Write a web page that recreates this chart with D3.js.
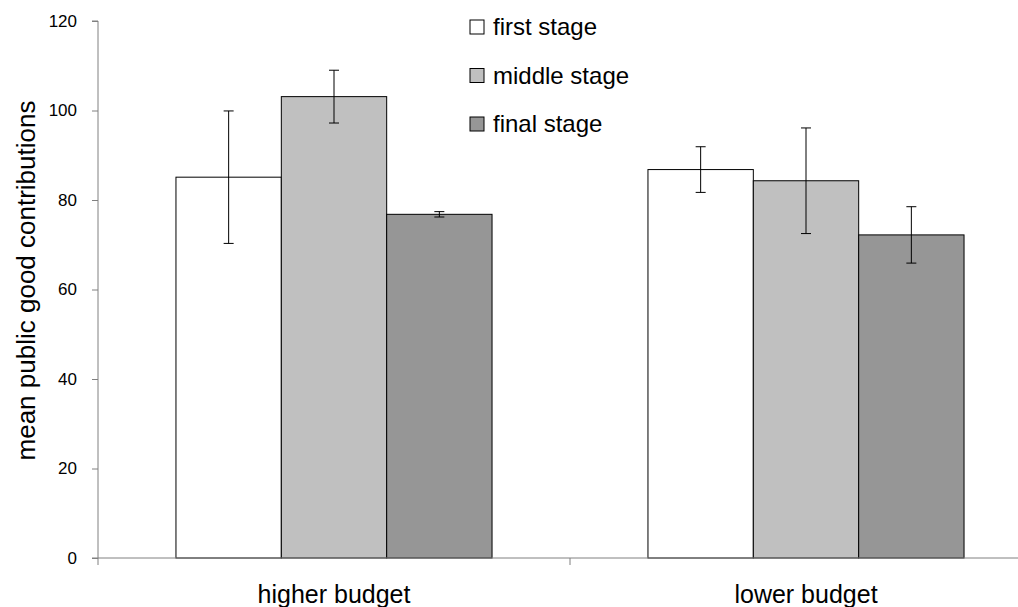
<!DOCTYPE html>
<html>
<head>
<meta charset="utf-8">
<script src="https://cdn.jsdelivr.net/npm/d3@7"></script>
<style>
  body { margin: 0; background: #fff; }
  text { font-family: "Liberation Sans", Arial, sans-serif; fill: #000; }
</style>
</head>
<body>
<div id="chart"></div>
<script>
// chart data
const categories = ["higher budget", "lower budget"];
const stages = ["first stage", "middle stage", "final stage"];
const stageColors = ["#ffffff", "#c0c0c0", "#969696"];
const means = [
    [85.1, 103.1, 76.8],
    [86.8, 84.3, 72.2]
];
const errors = [
    [14.8, 5.9, 0.6],
    [5.1, 11.8, 6.3]
];
const yTicks = [0, 20, 40, 60, 80, 100, 120];

const width = 1018, height = 607;
const margin = {top: 21, right: -24, bottom: 49, left: 98};

const svg = d3.select("#chart").append("svg")
    .attr("width", width)
    .attr("height", height);

const x = d3.scaleBand()
    .domain(categories)
    .range([margin.left, width - margin.right])
    .paddingInner(0)
    .paddingOuter(0);

// bars take 316 of each 472 px band
const xInner = d3.scaleBand()
    .domain(stages)
    .range([0, x.bandwidth()])
    .paddingOuter(0.74)
    .paddingInner(0);

const y = d3.scaleLinear()
    .domain([0, 120])
    .range([height - margin.bottom, margin.top]);

// bars
const groups = svg.selectAll(".group")
    .data(categories)
    .join("g")
    .attr("class", "group")
    .attr("transform", d => `translate(${x(d)},0)`);

groups.each(function (cat, ci) {
    const g = d3.select(this);
    const rows = stages.map((s, si) => ({stage: s, si, v: means[ci][si], e: errors[ci][si]}));

    g.selectAll("rect")
        .data(rows)
        .join("rect")
        .attr("x", d => xInner(d.stage))
        .attr("y", d => y(d.v))
        .attr("width", xInner.bandwidth())
        .attr("height", d => y(0) - y(d.v))
        .attr("fill", d => stageColors[d.si])
        .attr("stroke", "#000")
        .attr("stroke-width", 1);

    const eb = g.selectAll(".err")
        .data(rows)
        .join("g")
        .attr("class", "err")
        .attr("transform", d => `translate(${xInner(d.stage) + xInner.bandwidth() / 2},0)`);
    eb.append("line")
        .attr("y1", d => y(d.v - d.e))
        .attr("y2", d => y(d.v + d.e))
        .attr("stroke", "#000");
    eb.append("line")
        .attr("x1", -5).attr("x2", 5)
        .attr("y1", d => y(d.v + d.e))
        .attr("y2", d => y(d.v + d.e))
        .attr("stroke", "#000");
    eb.append("line")
        .attr("x1", -5).attr("x2", 5)
        .attr("y1", d => y(d.v - d.e))
        .attr("y2", d => y(d.v - d.e))
        .attr("stroke", "#000");
});

// y axis
const yAxis = d3.axisLeft(y).tickValues(yTicks).tickSize(6).tickPadding(15);
svg.append("g")
    .attr("transform", `translate(${margin.left},0)`)
    .call(yAxis)
    .call(g => g.select(".domain").attr("stroke", "#808080").attr("d", `M-6,${y(120)}H0V${y(0) + 7}`))
    .call(g => g.selectAll(".tick line").attr("stroke", "#808080"))
    .call(g => g.selectAll(".tick text").attr("font-size", 17).attr("font-family", "Liberation Sans, Arial, sans-serif").attr("fill", "#000"));

// x axis
svg.append("g")
    .attr("transform", `translate(0,${y(0)})`)
    .call(g => g.append("line")
        .attr("x1", margin.left - 6).attr("x2", width)
        .attr("stroke", "#808080"))
    .call(g => g.selectAll(".xtick")
        .data([x(categories[1])])
        .join("line")
        .attr("class", "xtick")
        .attr("x1", d => d).attr("x2", d => d)
        .attr("y1", 0).attr("y2", 7)
        .attr("stroke", "#808080"));

svg.selectAll(".cat-label")
    .data(categories)
    .join("text")
    .attr("class", "cat-label")
    .attr("x", d => x(d) + x.bandwidth() / 2)
    .attr("y", 603)
    .attr("text-anchor", "middle")
    .attr("font-size", 25)
    .text(d => d);

// y title
svg.append("text")
    .attr("transform", `translate(35,${(y(0) + y(120)) / 2 - 9}) rotate(-90)`)
    .attr("text-anchor", "middle")
    .attr("font-size", 26)
    .text("mean public good contributions");

// legend
const legend = svg.append("g").attr("transform", "translate(470,20)");
const li = legend.selectAll(".li")
    .data(stages)
    .join("g")
    .attr("class", "li")
    .attr("transform", (d, i) => `translate(0,${i * 48.5})`);
li.append("rect")
    .attr("width", 14).attr("height", 14)
    .attr("fill", (d, i) => stageColors[i])
    .attr("stroke", "#000");
li.append("text")
    .attr("x", 23).attr("y", 15)
    .attr("font-size", 24)
    .text(d => d);
</script>
</body>
</html>
